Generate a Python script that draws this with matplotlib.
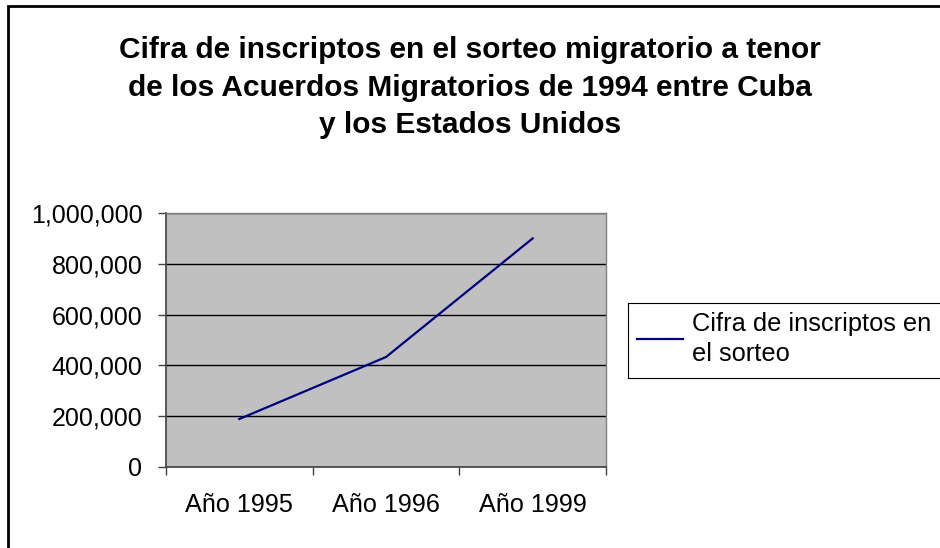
import matplotlib.pyplot as plt
from matplotlib.patches import Rectangle
from matplotlib.ticker import FuncFormatter

# data
categories = ['Año 1995', 'Año 1996', 'Año 1999']
inscriptos = [189000, 433000, 900000]
series_label = 'Cifra de inscriptos en\nel sorteo'
title_lines = ['Cifra de inscriptos en el sorteo migratorio a tenor',
               'de los Acuerdos Migratorios de 1994 entre Cuba',
               'y los Estados Unidos']
y_ticks = [0, 200000, 400000, 600000, 800000, 1000000]

plt.rcParams['font.family'] = ['Liberation Sans', 'DejaVu Sans']

W, H = 940, 548
fig = plt.figure(figsize=(W / 100, H / 100), dpi=100)
fig.patch.set_facecolor('white')

# outer chart border (right/bottom edges fall outside the image)
fig.patches.append(Rectangle((8 / W, -0.1), 1.2, 1.1 - 6 / H, transform=fig.transFigure,
                             fill=False, edgecolor='black', linewidth=2, zorder=0))

ax = fig.add_axes([166 / W, 1 - 467 / H, (606 - 166) / W, (467 - 213) / H])
ax.set_facecolor('#c0c0c0')

x = list(range(len(categories)))
line, = ax.plot(x, inscriptos, color='#000080', linewidth=1.6, label=series_label, zorder=3)

ax.set_xlim(-0.5, len(categories) - 0.5)
ax.set_ylim(0, 1000000)
ax.set_yticks(y_ticks)
ax.yaxis.set_major_formatter(FuncFormatter(lambda v, p: f'{int(v):,}'))
ax.grid(axis='y', color='black', linewidth=1)
ax.set_axisbelow(True)

ax.set_xticks(x)
ax.set_xticklabels(categories)
ax.set_xticks([i + 0.5 for i in range(-1, len(categories))], minor=True)
ax.tick_params(axis='x', which='major', length=0, pad=19, labelsize=18.2)
ax.tick_params(axis='x', which='minor', length=6, width=1, color='#404040', direction='out')
ax.tick_params(axis='y', length=6, width=1, color='#404040', pad=11, labelsize=18)

for side in ['left', 'bottom']:
    ax.spines[side].set_color('#404040')
    ax.spines[side].set_linewidth(1.2)
for side in ['top', 'right']:
    ax.spines[side].set_color('#808080')
    ax.spines[side].set_linewidth(1)

title_y = [50, 88, 125]
for txt, yy in zip(title_lines, title_y):
    fig.text(470 / W, 1 - yy / H, txt, ha='center', va='center',
             fontsize=21.5, fontweight='bold')

# legend box runs past the right edge of the image, as in the reference
fig.patches.append(Rectangle((628 / W, 1 - 378 / H), 0.5, 75 / H, transform=fig.transFigure,
                             fill=False, edgecolor='black', linewidth=0.8))
leg = fig.legend(handles=[line], loc='upper left', bbox_to_anchor=(628 / W, 1 - 303 / H),
                 frameon=False, fontsize=18.3, handlelength=1.8,
                 handletextpad=0.38, borderpad=0.35, borderaxespad=0)
for t in leg.get_texts():
    t.set_linespacing(1.3)

fig.savefig('out.png', dpi=100)
